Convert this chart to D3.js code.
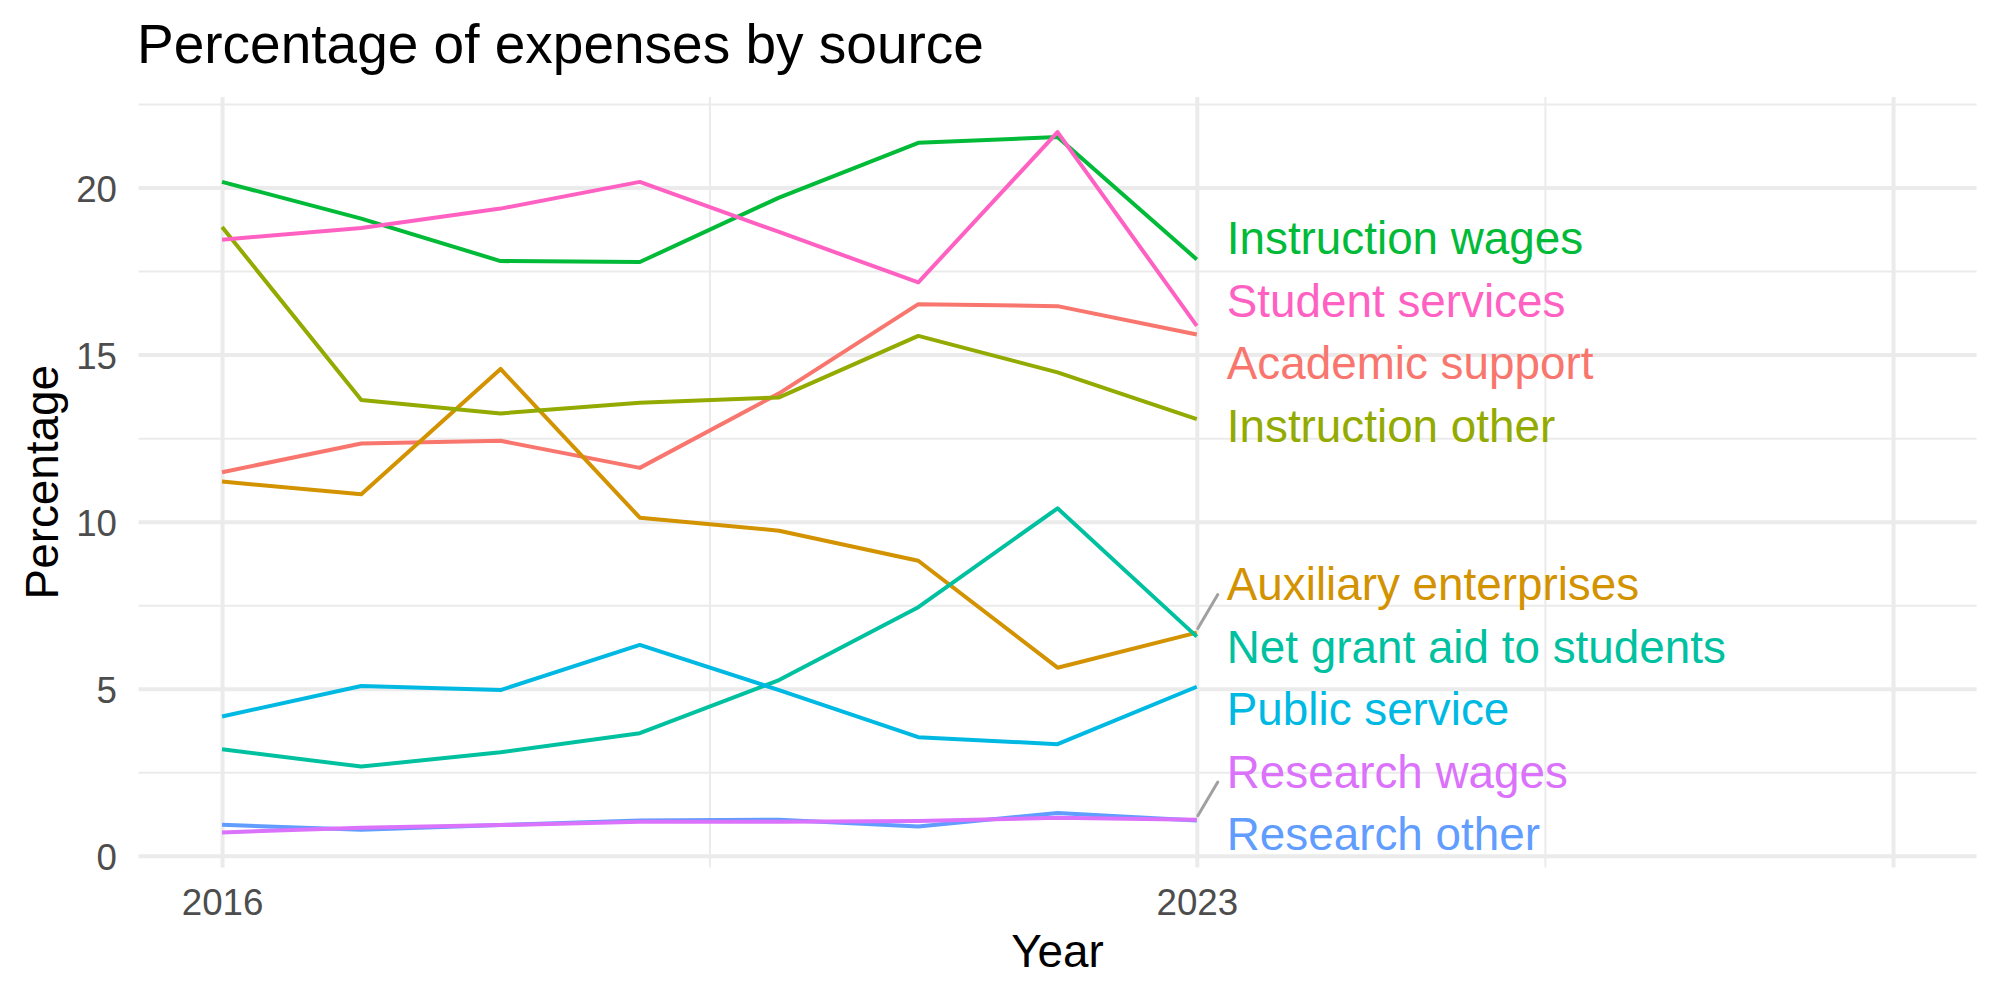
<!DOCTYPE html>
<html>
<head>
<meta charset="utf-8">
<script src="https://cdn.jsdelivr.net/npm/d3@7"></script>
<style>
	body { margin: 0; background: #fff; }
	text { font-family: "Liberation Sans", Arial, Helvetica, sans-serif; }
</style>
</head>
<body>
<svg id="chart" width="2000" height="1000"></svg>
<script>

// data (percent of expenses)
var years = [2016, 2017, 2018, 2019, 2020, 2021, 2022, 2023];

var sources = ["Academic support", "Auxiliary enterprises", "Instruction other",
	"Instruction wages", "Net grant aid to students", "Public service",
	"Research other", "Research wages", "Student services"];

var colors = ["#F8766D", "#D39200", "#93AA00", "#00BA38", "#00C19F",
	"#00B9E3", "#619CFF", "#DB72FB", "#FF61C3"];

var academicSupport = [11.48, 12.34, 12.42, 11.61, 13.84, 16.51, 16.45, 15.60];
var auxiliaryEnterprises = [11.20, 10.82, 14.57, 10.12, 9.73, 8.83, 5.63, 6.68];
var instructionOther = [18.82, 13.64, 13.24, 13.56, 13.72, 15.56, 14.47, 13.07];
var instructionWages = [20.17, 19.07, 17.80, 17.77, 19.70, 21.34, 21.51, 17.85];
var netGrantAid = [3.19, 2.67, 3.10, 3.67, 5.26, 7.44, 10.40, 6.56];
var publicService = [4.17, 5.08, 4.96, 6.31, 4.96, 3.55, 3.34, 5.06];
var researchOther = [0.93, 0.78, 0.92, 1.06, 1.08, 0.88, 1.28, 1.06];
var researchWages = [0.70, 0.84, 0.92, 1.02, 1.02, 1.04, 1.14, 1.08];
var studentServices = [18.44, 18.79, 19.37, 20.17, 18.67, 17.16, 21.66, 15.86];

var seriesValues = [academicSupport, auxiliaryEnterprises, instructionOther,
	instructionWages, netGrantAid, publicService, researchOther,
	researchWages, studentServices];

var xTicks = [2016, 2023, 2028];
var xTickLabels = ["2016", "2023", ""];
var xMinor = [2019.5, 2025.5];
var yTicks = [0, 5, 10, 15, 20];
var yMinor = [2.5, 7.5, 12.5, 17.5, 22.5];


var svg = d3.select("#chart");

// panel edges (window.top is taken, so plot* names)
var plotLeft = 138.5, plotRight = 1976.6, plotTop = 97, plotBottom = 867.5;

var x = d3.scaleLinear().domain([2015.4, 2028.6]).range([plotLeft, plotRight]);
var y = d3.scaleLinear().domain([-0.35, 22.71]).range([plotBottom, plotTop]);

var series = sources.map(function(name, i) {
	return {
		name: name,
		color: colors[i],
		values: years.map(function(yr, j) { return { year: yr, value: seriesValues[i][j] }; })
	};
});

// grid: minor first, then major with labels
svg.append("g")
	.attr("transform", "translate(" + plotLeft + ",0)")
	.call(d3.axisLeft(y).tickValues(yMinor).tickSize(-(plotRight - plotLeft)).tickFormat(""))
	.call(function(g) { g.select(".domain").remove(); })
	.selectAll("line").attr("stroke", "#EBEBEB").attr("stroke-width", 2);

svg.append("g")
	.attr("transform", "translate(0," + plotBottom + ")")
	.call(d3.axisBottom(x).tickValues(xMinor).tickSize(-(plotBottom - plotTop)).tickFormat(""))
	.call(function(g) { g.select(".domain").remove(); })
	.selectAll("line").attr("stroke", "#EBEBEB").attr("stroke-width", 2);

var yAxis = svg.append("g")
	.attr("transform", "translate(" + plotLeft + ",0)")
	.call(d3.axisLeft(y).tickValues(yTicks).tickSize(-(plotRight - plotLeft)).tickPadding(21.5));
yAxis.select(".domain").remove();
yAxis.selectAll("line").attr("stroke", "#EBEBEB").attr("stroke-width", 4);
yAxis.selectAll("text")
	.attr("dy", "0.37em")
	.attr("fill", "#4D4D4D")
	.style("font-size", "36.7px");

var xAxis = svg.append("g")
	.attr("transform", "translate(0," + plotBottom + ")")
	.call(d3.axisBottom(x).tickValues(xTicks).tickSize(-(plotBottom - plotTop)).tickPadding(21.5)
		.tickFormat(function(d, i) { return xTickLabels[i]; }));
xAxis.select(".domain").remove();
xAxis.selectAll("line").attr("stroke", "#EBEBEB").attr("stroke-width", 4);
xAxis.selectAll("text")
	.attr("fill", "#4D4D4D")
	.style("font-size", "36.7px");
yAxis.attr("font-family", null);
xAxis.attr("font-family", null);


// lines
var line = d3.line()
	.x(function(d) { return x(d.year); })
	.y(function(d) { return y(d.value); });

svg.append("g")
	.selectAll("path")
	.data(series)
	.enter().append("path")
	.attr("d", function(d) { return line(d.values); })
	.attr("fill", "none")
	.attr("stroke", function(d) { return d.color; })
	.attr("stroke-width", 4)
	.attr("stroke-linejoin", "round");


// end labels, pushed apart like ggrepel does
var lastYear = years[years.length - 1];
var gap = 62.5, minC = plotTop + 31, maxC = plotBottom - 31;

var labels = series.map(function(s) {
	var v = s.values[s.values.length - 1].value;
	return { name: s.name, color: s.color, py: y(v), ly: y(v) };
});
labels.sort(function(a, b) { return a.py - b.py; });

var clusters = labels.map(function(l) { return { items: [l], start: l.py }; });
var merged = true;
while (merged) {
	merged = false;
	for (var i = 0; i < clusters.length - 1; i++) {
		var a = clusters[i], b = clusters[i + 1];
		if (a.start + a.items.length * gap > b.start) {
			var items = a.items.concat(b.items);
			var mean = d3.mean(items, function(d) { return d.py; });
			var start = mean - (items.length - 1) * gap / 2;
			start = Math.max(minC, Math.min(start, maxC - (items.length - 1) * gap));
			clusters.splice(i, 2, { items: items, start: start });
			merged = true;
			break;
		}
	}
}
clusters.forEach(function(c) {
	c.items.forEach(function(l, k) { l.ly = c.start + k * gap; });
});

var labelX = x(lastYear) + 30;

svg.append("g")
	.selectAll("line")
	.data(labels.filter(function(d) { return Math.abs(d.py - d.ly) > 40; }))
	.enter().append("line")
	.attr("x1", x(lastYear) + 1)
	.attr("y1", function(d) { return d.py - 4; })
	.attr("x2", labelX - 9)
	.attr("y2", function(d) { return d.ly + 8; })
	.attr("stroke", "#A0A0A0")
	.attr("stroke-width", 3)
	.attr("stroke-linecap", "round");

svg.append("g")
	.selectAll("text")
	.data(labels)
	.enter().append("text")
	.attr("x", labelX)
	.attr("y", function(d) { return d.ly + 13.5; })
	.attr("fill", function(d) { return d.color; })
	.style("font-size", "45.8px")
	.text(function(d) { return d.name; });


// titles
svg.append("text")
	.attr("x", 137)
	.attr("y", 62.5)
	.style("font-size", "55px")
	.text("Percentage of expenses by source");

svg.append("text")
	.attr("x", (plotLeft + plotRight) / 2)
	.attr("y", 966.5)
	.attr("text-anchor", "middle")
	.style("font-size", "45.8px")
	.text("Year");

svg.append("text")
	.attr("transform", "translate(58," + (plotTop + plotBottom) / 2 + ") rotate(-90)")
	.attr("text-anchor", "middle")
	.style("font-size", "45.8px")
	.text("Percentage");

</script>
</body>
</html>
